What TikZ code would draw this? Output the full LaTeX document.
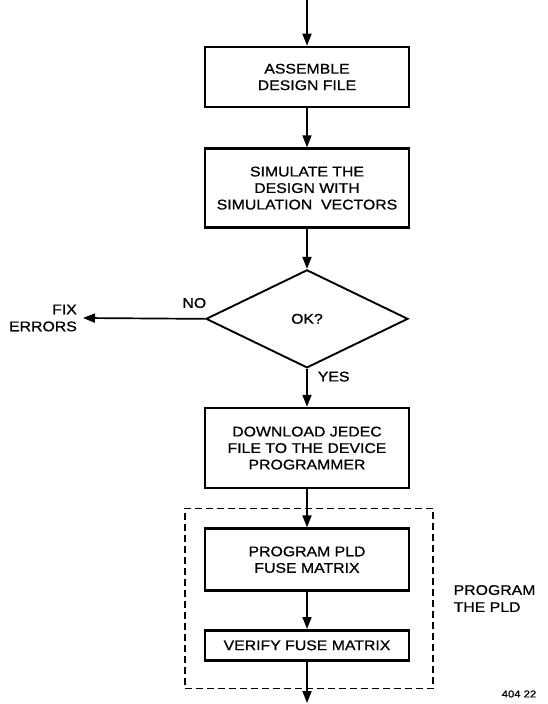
\documentclass[tikz,border=0pt]{standalone}
\usepackage{fontspec}
\setmainfont{Liberation Sans}[FakeStretch=1.13, FakeBold=0.8]
\usetikzlibrary{arrows.meta, positioning, shapes.geometric, fit, calc}

\begin{document}
\begin{tikzpicture}[
    x=1pt, y=-1pt,
    node distance=40pt,
    box/.style={draw, line width=2.6pt, align=center, minimum width=204pt, inner sep=2pt, font=\fontsize{14}{16.5}\selectfont},
    decision/.style={draw, diamond, aspect=2, line width=1.9pt, minimum width=202pt, minimum height=98pt, inner sep=0pt, font=\fontsize{14}{16.5}\selectfont},
    group/.style={draw, dash pattern=on 7pt off 4pt, line width=1.7pt, inner sep=0pt},
    note/.style={font=\fontsize{14}{17}\selectfont},
    tag/.style={inner sep=2pt, font=\fontsize{14}{17}\selectfont},
    flow/.style={-{Triangle[length=12pt, width=9pt]}, line width=1.7pt}
]
\useasboundingbox (0,0) rectangle (547,704);

\coordinate (start) at (307,0);
\node[box, minimum height=60pt] (assemble) at (307,77) {ASSEMBLE\\DESIGN FILE};
\node[box, minimum height=79pt, below=39pt of assemble] (simulate) {SIMULATE THE\\DESIGN WITH\\SIMULATION~~VECTORS};
\node[decision, below=40pt of simulate] (ok) {OK?};
\node[box, minimum height=80pt, below=38pt of ok] (download) {DOWNLOAD JEDEC\\FILE TO THE DEVICE\\PROGRAMMER};
\node[box, minimum height=62pt, below=38pt of download] (program) {PROGRAM PLD\\FUSE MATRIX};
\node[box, minimum height=30pt, below=37pt of program] (verify) {VERIFY FUSE MATRIX};
\coordinate (finish) at (307,703);

\node[note, align=right, anchor=east, inner xsep=6pt] (fix) at (83,318) {FIX\\ERRORS};

\coordinate (grpnw) at ($(program.north west)+(-19,-19)$);
\coordinate (grpse) at ($(verify.south east)+(23,27)$);
\node[group, fit=(grpnw)(grpse)] (pld) {};
\node[note, align=left, right=16pt of pld] (pldnote) {PROGRAM\\THE PLD};

\node[font=\fontsize{10}{12}\selectfont] (figid) at (519,694) {404 22};

\draw[flow] (start) -- (assemble);
\draw[flow] (assemble) -- (simulate);
\draw[flow] (simulate) -- (ok);
\draw[flow] (ok.west) -- node[tag, pos=0, anchor=south east, xshift=4pt, yshift=8pt]{NO} (fix.east);
\draw[flow] (ok.south) -- node[tag, pos=0, anchor=north west, xshift=8pt]{YES} (download);
\draw[flow] (download) -- (program);
\draw[flow] (program) -- (verify);
\draw[flow] (verify) -- (finish);
\end{tikzpicture}
\end{document}
